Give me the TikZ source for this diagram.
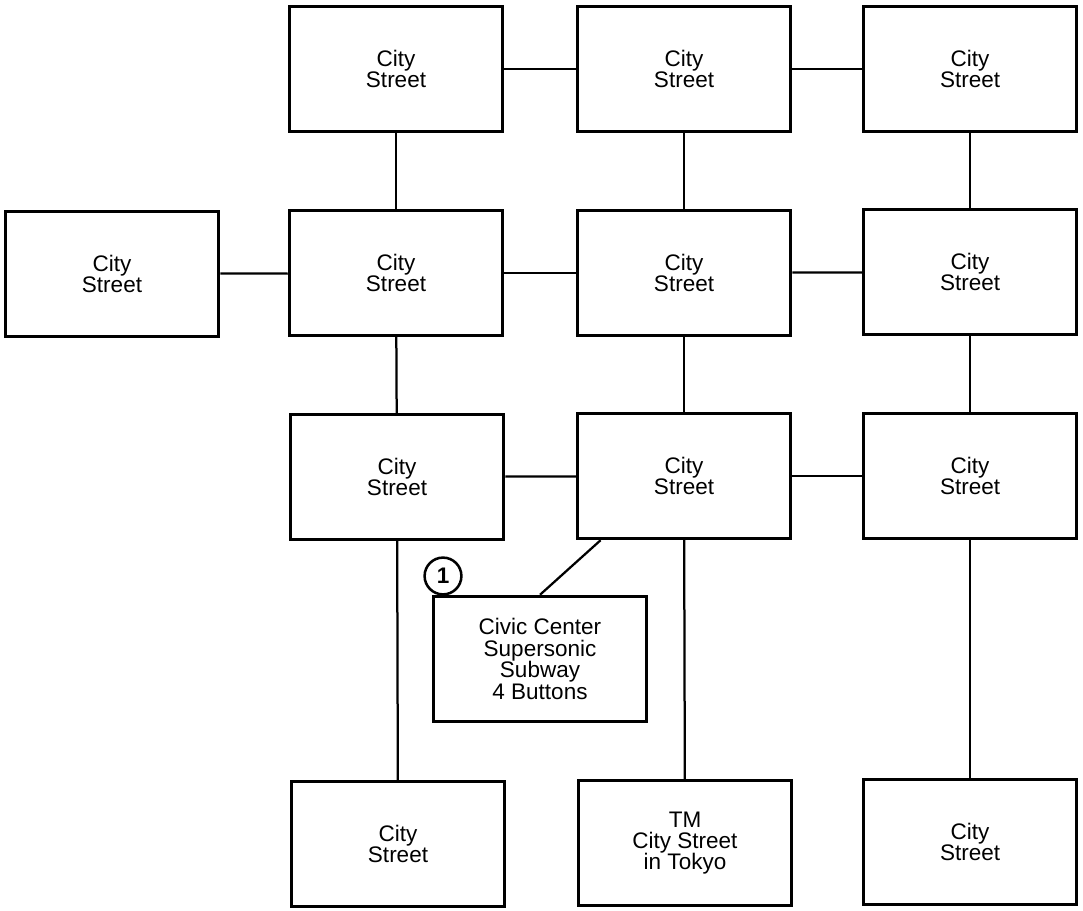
\documentclass[tikz,border=0pt]{standalone}
\usepackage{fontspec}
\setmainfont{Liberation Sans}
\begin{document}
\begin{tikzpicture}[x=0.025cm, y=-0.025cm, every node/.style={draw, line width=2.6pt, minimum width=5.32cm, minimum height=3.12cm, align=center, font=\fontsize{16}{15.2}\selectfont}]
\useasboundingbox (0,0) rectangle (1083,911);
    \node (s0) at (112,274) {City\\Street};
    \node (s1) at (396,69) {City\\Street};
    \node (s2) at (684,69) {City\\Street};
    \node (s3) at (970,69) {City\\Street};
    \node (s4) at (396,273) {City\\Street};
    \node (s5) at (684,273) {City\\Street};
    \node (s6) at (970,272) {City\\Street};
    \node (s7) at (397,477) {City\\Street};
    \node (s8) at (684,476) {City\\Street};
    \node (s9) at (970,476) {City\\Street};
    \node (s10) at (398,844) {City\\Street};
    \node (s11) at (685,843) {TM\\City Street\\in Tokyo};
    \node (s12) at (970,842) {City\\Street};
    \node (cc) at (540,659) {Civic Center\\Supersonic\\Subway\\4 Buttons};
\node[circle, line width=1.8pt, minimum size=0.92cm, inner sep=0pt, font=\fontsize{16}{16}\selectfont\bfseries] (n1) at (443,576) {1};
    \foreach \from/\to in {s1/s2, s2/s3, s1/s4, s2/s5, s3/s6, s0/s4, s4/s5, s5/s6, s4/s7, s5/s8, s6/s9, s7/s8, s8/s9, s7/s10, s8/s11, s9/s12}
        \draw[line width=1.6pt] (\from) -- (\to);
\draw[line width=1.6pt] ([xshift=0.62cm]s8.south west) -- (cc.north);
\end{tikzpicture}
\end{document}
